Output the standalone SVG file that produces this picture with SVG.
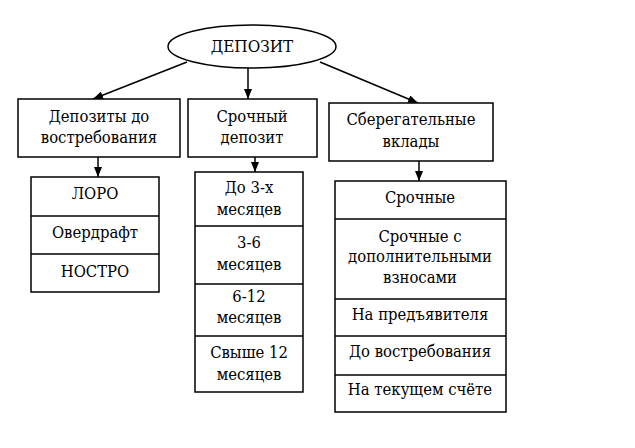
<svg xmlns="http://www.w3.org/2000/svg" width="635" height="448" viewBox="0 0 635 448" font-family="DejaVu Serif Condensed, DejaVu Serif, serif" font-size="16.5">
<style>
.b{fill:#fff;stroke:#000;stroke-width:1.5}
.l{fill:none;stroke:#000;stroke-width:1.5}
text{fill:#000;text-anchor:middle}
.c line{stroke:#000;stroke-width:1.5;marker-end:url(#a)}
</style>
<defs>
<marker id="a" viewBox="0 0 10 8" refX="10" refY="4" markerWidth="10" markerHeight="8" markerUnits="userSpaceOnUse" orient="auto">
<path d="M0,0L10,4L0,8z" fill="#000"/>
</marker>
</defs>
<rect width="635" height="448" fill="#fff"/>
<g class="c" id="connectors">
<line x1="187" y1="62" x2="93" y2="99"/>
<line x1="248" y1="68" x2="248" y2="99"/>
<line x1="320" y1="62" x2="418" y2="103"/>
<line x1="98" y1="157" x2="98" y2="177"/>
<line x1="255" y1="157" x2="255" y2="172"/>
<line x1="419" y1="161" x2="419" y2="181"/>
</g>
<g id="root">
<ellipse class="b" cx="252" cy="46.5" rx="84" ry="21.5"/>
<text x="252" y="52" font-size="17">ДЕПОЗИТ</text>
</g>
<g id="demand">
<rect class="b" x="18" y="99" width="162" height="58"/>
<text x="99" y="122">Депозиты до</text>
<text x="99" y="143">востребования</text>
</g>
<g id="term">
<rect class="b" x="188" y="99" width="129" height="58"/>
<text x="252" y="122">Срочный</text>
<text x="252" y="143">депозит</text>
</g>
<g id="savings">
<rect class="b" x="329" y="103" width="164" height="58"/>
<text x="411" y="125">Сберегательные</text>
<text x="411" y="147">вклады</text>
</g>
<g id="list1">
<rect class="b" x="31" y="177" width="128" height="115"/>
<line class="l" x1="31" y1="216" x2="159" y2="216"/>
<line class="l" x1="31" y1="254" x2="159" y2="254"/>
<text x="95" y="199">ЛОРО</text>
<text x="95" y="238">Овердрафт</text>
<text x="95" y="277">НОСТРО</text>
</g>
<g id="list2">
<rect class="b" x="195" y="172" width="108" height="220"/>
<line class="l" x1="195" y1="226" x2="303" y2="226"/>
<line class="l" x1="195" y1="284" x2="303" y2="284"/>
<line class="l" x1="195" y1="336" x2="303" y2="336"/>
<text x="249" y="193">До 3-х</text>
<text x="249" y="215">месяцев</text>
<text x="249" y="248">3-6</text>
<text x="249" y="270">месяцев</text>
<text x="249" y="302">6-12</text>
<text x="249" y="323">месяцев</text>
<text x="249" y="358">Свыше 12</text>
<text x="249" y="380">месяцев</text>
</g>
<g id="list3">
<rect class="b" x="335" y="181" width="171" height="231"/>
<line class="l" x1="335" y1="219" x2="506" y2="219"/>
<line class="l" x1="335" y1="299" x2="506" y2="299"/>
<line class="l" x1="335" y1="336" x2="506" y2="336"/>
<line class="l" x1="335" y1="375" x2="506" y2="375"/>
<text x="420" y="203">Срочные</text>
<text x="420" y="242">Срочные с</text>
<text x="420" y="262">дополнительными</text>
<text x="420" y="283">взносами</text>
<text x="420" y="320">На предъявителя</text>
<text x="420" y="357">До востребования</text>
<text x="420" y="395">На текущем счёте</text>
</g>
</svg>
